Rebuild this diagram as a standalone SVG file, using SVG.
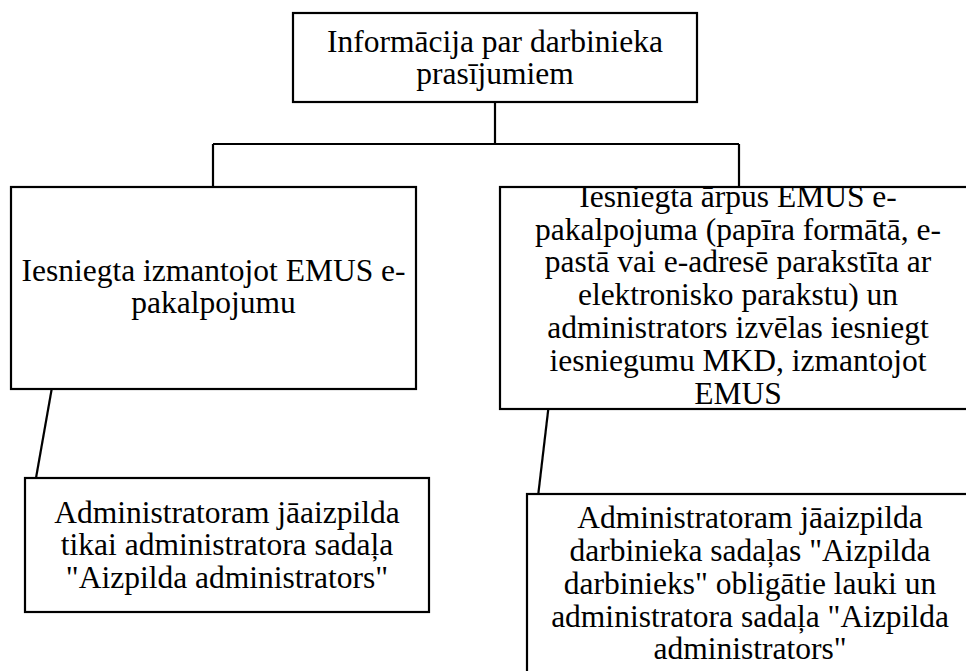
<svg xmlns="http://www.w3.org/2000/svg" width="966" height="671" viewBox="0 0 966 671">
<style>
.box{fill:#fff;stroke:#000;stroke-width:2.2}
.ln{fill:none;stroke:#000;stroke-width:2.2}
text{font-family:"Liberation Serif","Times New Roman","DejaVu Serif",serif;font-size:31.5px;fill:#000;text-anchor:middle}
</style>
<rect width="966" height="671" fill="#fff"/>
<g id="connectors">
<path class="ln" d="M495,102 V144 M213,144 H739 M213,144 V187 M739,144 V187"/>
<path class="ln" d="M51.7,389 L36,478"/>
<path class="ln" d="M548.3,409 L538.3,494"/>
</g>
<g id="n0">
<rect class="box" x="293" y="13" width="404" height="89"/>
<text x="495" y="52">Informācija par darbinieka</text>
<text x="495" y="84">prasījumiem</text>
</g>
<g id="n1">
<rect class="box" x="11" y="187" width="405" height="202"/>
<text x="213.5" y="281">Iesniegta izmantojot EMUS e-</text>
<text x="213.5" y="313">pakalpojumu</text>
</g>
<g id="n2">
<rect class="box" x="500" y="187" width="476" height="222"/>
<text x="738" y="207">Iesniegta ārpus EMUS e-</text>
<text x="738" y="240">pakalpojuma (papīra formātā, e-</text>
<text x="738" y="272">pastā vai e-adresē parakstīta ar</text>
<text x="738" y="305">elektronisko parakstu) un</text>
<text x="738" y="338">administrators izvēlas iesniegt</text>
<text x="738" y="371">iesniegumu MKD, izmantojot</text>
<text x="738" y="404">EMUS</text>
</g>
<g id="n3">
<rect class="box" x="25" y="478" width="404" height="134"/>
<text x="227" y="523">Administratoram jāaizpilda</text>
<text x="227" y="555">tikai administratora sadaļa</text>
<text x="227" y="588">"Aizpilda administrators"</text>
</g>
<g id="n4">
<rect class="box" x="527" y="494" width="446" height="200"/>
<text x="750" y="528">Administratoram jāaizpilda</text>
<text x="750" y="561">darbinieka sadaļas "Aizpilda</text>
<text x="750" y="594">darbinieks" obligātie lauki un</text>
<text x="750" y="627">administratora sadaļa "Aizpilda</text>
<text x="750" y="659">administrators"</text>
</g>
</svg>
